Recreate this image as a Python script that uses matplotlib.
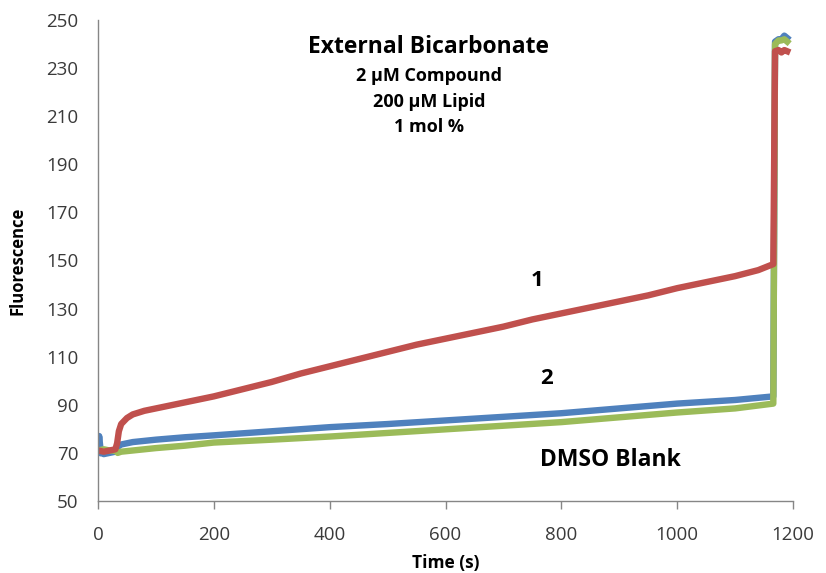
import matplotlib
matplotlib.use("Agg")
import matplotlib.pyplot as plt

# ---- data ----
red_t = [0, 10, 20, 30, 33, 36, 40, 50, 60, 80, 100, 130, 160, 200, 250, 300, 350, 400,
         450, 500, 550, 600, 650, 700, 750, 800, 850, 900, 950, 1000, 1050, 1100, 1140,
         1166, 1169, 1175, 1180, 1185, 1190]
red_v = [71, 70.5, 71, 71.5, 74, 79, 82, 84.5, 86, 87.5, 88.5, 90, 91.5, 93.5, 96.5, 99.5,
         103, 106, 109, 112, 115, 117.5, 120, 122.5, 125.5, 128, 130.5, 133, 135.5, 138.5,
         141, 143.5, 146, 148.5, 237, 237.5, 236.5, 237.5, 237]

blue_t = [0, 2, 5, 10, 20, 30, 34, 40, 60, 100, 150, 200, 300, 400, 500, 600, 700, 800,
          900, 1000, 1100, 1166, 1169, 1175, 1180, 1185, 1190]
blue_v = [70, 77, 70, 69.5, 70, 70.5, 72.5, 73.5, 74.5, 75.5, 76.5, 77.3, 79, 80.7, 82,
          83.5, 85, 86.5, 88.5, 90.5, 92, 93.5, 241, 242, 242, 243.5, 242.5]

green_t = [0, 10, 20, 30, 34, 40, 60, 100, 150, 200, 300, 400, 500, 600, 700, 800, 900,
           1000, 1100, 1166, 1169, 1175, 1180, 1185, 1190]
green_v = [71, 71.5, 71, 71, 70, 70.5, 71, 72, 73, 74.3, 75.5, 76.8, 78.3, 79.8, 81.3,
           82.8, 84.8, 86.8, 88.5, 90.5, 240, 241.5, 241.5, 242, 241]

x_ticks = [0, 200, 400, 600, 800, 1000, 1200]
y_ticks = [50, 70, 90, 110, 130, 150, 170, 190, 210, 230, 250]
y_marks = [50, 90, 150, 210]

plt.rcParams['font.family'] = ['Open Sans', 'DejaVu Sans']

fig = plt.figure(figsize=(8.26, 5.73), dpi=100)
ax = fig.add_axes([98 / 826, 1 - 501 / 573, (793 - 98) / 826, (501 - 20) / 573])

lw = 4.6
ax.plot(blue_t, blue_v, color='#4F81BD', lw=lw, solid_joinstyle='round')
ax.plot(green_t, green_v, color='#9BBB59', lw=lw, solid_joinstyle='round')
ax.plot(red_t, red_v, color='#C0504D', lw=lw, solid_joinstyle='round')

ax.set_xlim(0, 1200)
ax.set_ylim(50, 250)

gray = '#868686'
for s in ['top', 'right']:
    ax.spines[s].set_visible(False)
for s in ['left', 'bottom']:
    ax.spines[s].set_color(gray)
    ax.spines[s].set_linewidth(1)

ax.set_xticks(x_ticks)
ax.set_yticks(y_ticks)
ax.set_yticks(y_marks, minor=True)
ax.tick_params(axis='y', which='major', length=0, pad=14, labelsize=13.5, labelcolor='#3a3a3a')
ax.tick_params(axis='y', which='minor', length=6, color=gray, width=1)
ax.tick_params(axis='x', which='major', length=6, color=gray, width=1, pad=12,
               labelsize=13.5, labelcolor='#3a3a3a')

ax.set_xlabel('Time (s)', fontsize=12.5, fontweight='bold', labelpad=7)
ax.set_ylabel('Fluorescence', fontsize=12, fontweight='bold', labelpad=14)

tk = dict(ha='center', va='center', fontweight='bold', color='black')
fig.text(429 / 826, 1 - 47 / 573, 'External Bicarbonate', fontsize=16.5, **tk)
fig.text(429 / 826, 1 - 76 / 573, '2 \u03bcM Compound', fontsize=13, **tk)
fig.text(429 / 826, 1 - 102 / 573, '200 \u03bcM Lipid', fontsize=13, **tk)
fig.text(429 / 826, 1 - 127 / 573, '1 mol %', fontsize=13, **tk)
fig.text(537 / 826, 1 - 281 / 573, '1', fontsize=16, **tk)
fig.text(547 / 826, 1 - 378 / 573, '2', fontsize=16, **tk)
fig.text(610 / 826, 1 - 460 / 573, 'DMSO Blank', fontsize=16.5, **tk)

fig.savefig('out.png', dpi=100)
